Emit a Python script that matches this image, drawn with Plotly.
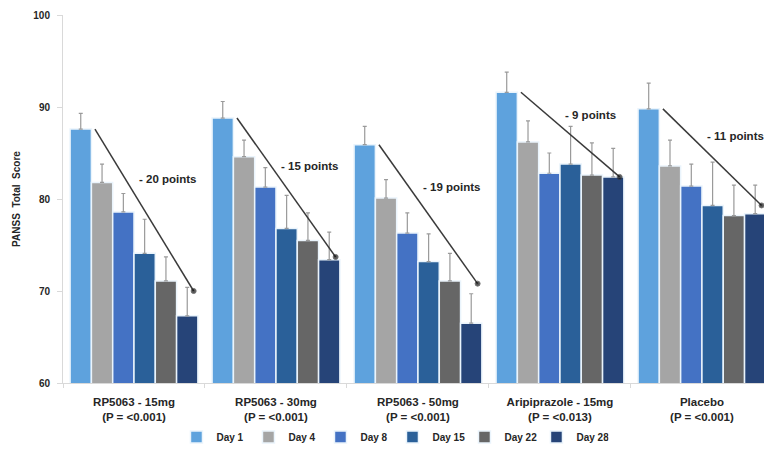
import plotly.graph_objects as go

# PANSS total score by treatment arm and visit day
groups = [
    "RP5063 - 15mg<br>(P = &lt;0.001)",
    "RP5063 - 30mg<br>(P = &lt;0.001)",
    "RP5063 - 50mg<br>(P = &lt;0.001)",
    "Aripiprazole - 15mg<br>(P = &lt;0.013)",
    "Placebo<br>(P = &lt;0.001)",
]
days = ["Day 1", "Day 4", "Day 8", "Day 15", "Day 22", "Day 28"]

day1 = [87.6, 88.8, 85.9, 91.6, 89.8]
day4 = [81.8, 84.6, 80.1, 86.2, 83.6]
day8 = [78.6, 81.3, 76.3, 82.8, 81.4]
day15 = [74.1, 76.8, 73.2, 83.8, 79.3]
day22 = [71.1, 75.5, 71.1, 82.6, 78.2]
day28 = [67.3, 73.4, 66.5, 82.4, 78.4]

err1 = [1.7, 1.8, 2.0, 2.2, 2.8]
err4 = [2.0, 1.8, 2.0, 2.3, 2.8]
err8 = [2.0, 2.1, 2.2, 2.2, 2.4]
err15 = [3.7, 3.6, 3.0, 4.1, 4.7]
err22 = [2.6, 3.0, 3.0, 3.5, 3.3]
err28 = [3.1, 3.0, 3.2, 3.1, 3.1]

# end height of the Day 1 -> Day 28 trend arrows, and height of their labels
trend_end = [70.0, 73.7, 70.8, 82.4, 79.3]
label_y = [82.2, 83.6, 81.3, 89.1, 86.8]

series = [day1, day4, day8, day15, day22, day28]
errors = [err1, err4, err8, err15, err22, err28]
colors = ["#5ea2dd", "#a5a5a5", "#4472c4", "#2a6099", "#666666", "#264478"]

FONT = "Liberation Sans, Arial, sans-serif"
TXT = "#262626"
x = list(range(len(groups)))

fig = go.Figure()
for name, vals, err, col in zip(days, series, errors, colors):
    fig.add_trace(go.Bar(
        x=x, y=vals, name=name,
        marker=dict(color=col, line=dict(color="#eaf4fc", width=1.5)),
        error_y=dict(type="data", array=err, arrayminus=[0] * len(err),
                     symmetric=False, color="#9a9a9a", thickness=1.2, width=2),
    ))

# trend lines from Day 1 down to Day 28 in each arm
for i in x:
    fig.add_trace(go.Scatter(
        x=[i - 0.275, i + 0.42], y=[day1[i], trend_end[i]],
        mode="lines+markers",
        line=dict(color="#3a3a3a", width=1.5),
        marker=dict(size=[0, 5], color="#111111"),
        showlegend=False, hoverinfo="skip",
    ))
    drop = round(day1[i] - day28[i])
    fig.add_annotation(
        x=i + 0.02, y=label_y[i], xref="x", yref="y",
        text=f"- {drop} points", showarrow=False, xanchor="left",
        font=dict(family=FONT, size=11.5, color=TXT, weight="bold"),
    )

fig.update_layout(
    width=764, height=459,
    margin=dict(l=63, r=0, t=15, b=76),
    paper_bgcolor="white", plot_bgcolor="white",
    barmode="group", bargap=0.1, bargroupgap=0,
    font=dict(family=FONT, size=10, color=TXT),
    showlegend=True,
    legend=dict(orientation="h", x=0.47, xanchor="center", y=-0.147,
                yanchor="middle", font=dict(size=10, weight="bold"),
                itemwidth=30, entrywidth=27, entrywidthmode="pixels",
                traceorder="normal"),
)
fig.update_xaxes(
    range=[-0.5, 4.437], tickvals=x, ticktext=groups,
    showline=True, linecolor="#d9d9d9", linewidth=1,
    ticks="", showgrid=False, zeroline=False, ticklabelstandoff=8,
    tickfont=dict(size=11.5, weight="bold", color=TXT),
    minor=dict(tick0=0.5, dtick=1, ticks="outside", ticklen=4,
               tickcolor="#d9d9d9", showgrid=False),
)
fig.update_yaxes(
    range=[60, 100], tickvals=[60, 70, 80, 90, 100],
    showline=True, linecolor="#d9d9d9", linewidth=1,
    ticks="outside", ticklen=5, tickcolor="#d9d9d9",
    showgrid=False, zeroline=False, ticklabelstandoff=5,
    tickfont=dict(size=10, weight="bold", color=TXT),
    title=dict(text="PANSS  Total  Score", standoff=10,
               font=dict(size=10, weight="bold", color=TXT)),
)

fig.write_html("out.html")
